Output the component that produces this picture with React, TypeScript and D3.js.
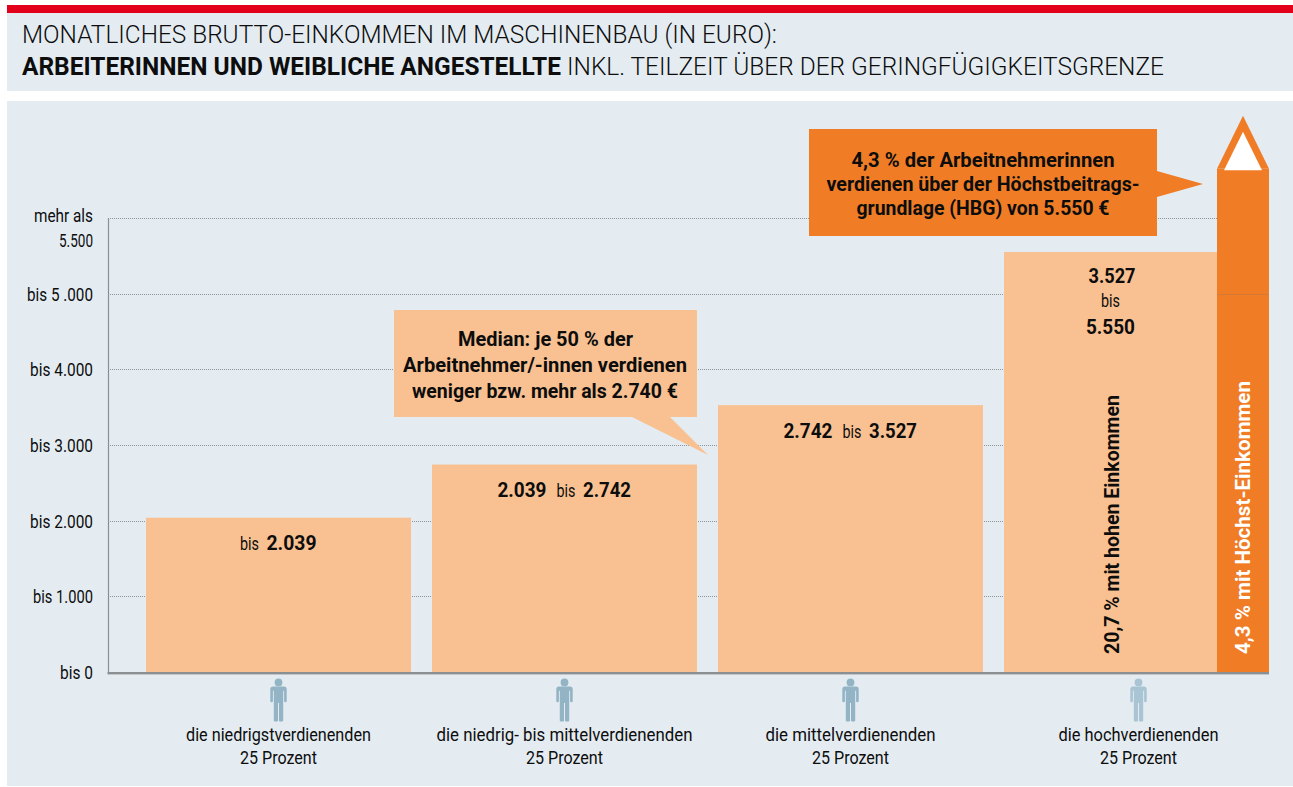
import { useEffect, useRef } from "react";
import * as d3 from "d3";

const width = 1293;
const height = 787;

const fontFamily = "Roboto, 'Noto Sans', sans-serif";

const categories = [
  "die niedrigstverdienenden",
  "die niedrig- bis mittelverdienenden",
  "die mittelverdienenden",
  "die hochverdienenden",
];
const lowerBounds = [0, 2039, 2742, 3527];
const upperBounds = [2039, 2742, 3527, 5550];
const lowerLabels = ["", "2.039", "2.742", "3.527"];
const upperLabels = ["2.039", "2.742", "3.527", "5.550"];
const categoryLabelWidths = [185, 256, 170, 160];

const tickValues = [0, 1000, 2000, 3000, 4000, 5000, 6000];
const tickLabels = ["bis 0", "bis 1.000", "bis 2.000", "bis 3.000", "bis 4.000", "bis 5 .000", "5.500"];

// oberes Ende der Höchst-Einkommen-Säule, nur Pfeilform, kein Messwert
const arrowBaseValue = 6650;

const colors = {
  red: "#e2001a",
  header: "#e4ecf2",
  panel: "#e4ecf2",
  bar: "#f9c191",
  orange: "#f07d26",
  axis: "#8c8f91",
  grid: "#8f9496",
  icon: "#93b4c5",
  iconLight: "#a9c4d3",
  text: "#0d0d0d",
};

const margin = { top: 218, bottom: 672, left: 108, right: 1269 };

type TextRow = { text: string; x: number; y: number; w: number };

const calloutTop = [
  { text: "4,3 % der Arbeitnehmerinnen", x: 983, y: 167, w: 263 },
  { text: "verdienen über der Höchstbeitrags-", x: 983, y: 191, w: 313 },
  { text: "grundlage (HBG) von 5.550 €", x: 983, y: 215, w: 253 },
];
const calloutMedian = [
  { text: "Median: je 50 % der", x: 545.5, y: 346, w: 175 },
  { text: "Arbeitnehmer/-innen verdienen", x: 545, y: 372, w: 284 },
  { text: "weniger bzw. mehr als 2.740 €", x: 545, y: 398, w: 266 },
];

export default function App() {
  const svgRef = useRef<SVGSVGElement | null>(null);

  useEffect(() => {
    if (!svgRef.current) return;
    const svg = d3.select(svgRef.current);

    const x = d3
      .scaleBand()
      .domain(categories)
      .range([146, margin.right])
      .paddingInner(21 / 286);

    const y = d3.scaleLinear().domain([0, 6000]).range([margin.bottom, margin.top]);

    const topColumnWidth = 52;
    const barWidth = (i: number) =>
      i === 3 ? x.bandwidth() - topColumnWidth : x.bandwidth();

    // Gitterlinien
    svg
      .select(".grid")
      .selectAll("line")
      .data(tickValues.slice(1))
      .join("line")
      .attr("x1", margin.left)
      .attr("x2", margin.right)
      .attr("y1", (d) => Math.round(y(d)) + 0.5)
      .attr("y2", (d) => Math.round(y(d)) + 0.5)
      .attr("stroke", colors.grid)
      .attr("stroke-width", 1)
      .attr("stroke-dasharray", "1 1");

    // y-Achse
    const yAxis = svg
      .select<SVGGElement>(".y-axis")
      .attr("transform", `translate(${margin.left},0)`)
      .call(
        d3
          .axisLeft(y)
          .tickValues(tickValues)
          .tickSize(0)
          .tickPadding(15)
          .tickFormat((_, i) => tickLabels[i]),
      );
    yAxis.select(".domain").attr("stroke", colors.axis).attr("stroke-width", 1.2);
    yAxis
      .selectAll<SVGTextElement, number>("text")
      .attr("dy", (d) => (d === 6000 ? "1.62em" : "0.38em"))
      .attr("fill", colors.text)
      .style("font-family", fontFamily)
      .style("font-size", "17.5px")
      .attr("textLength", (_, i) => [33, 60, 63, 63, 63, 66, 34][i])
      .attr("lengthAdjust", "spacingAndGlyphs");
    yAxis
      .append("text")
      .attr("x", -15)
      .attr("y", y(6000) + 4)
      .attr("text-anchor", "end")
      .attr("fill", colors.text)
      .style("font-family", fontFamily)
      .style("font-size", "17.5px")
      .attr("textLength", 59)
      .attr("lengthAdjust", "spacingAndGlyphs")
      .text("mehr als");

    // Balken
    svg
      .select(".bars")
      .selectAll("rect")
      .data(categories)
      .join("rect")
      .attr("x", (d) => x(d) ?? 0)
      .attr("width", (_, i) => barWidth(i))
      .attr("y", (_, i) => y(upperBounds[i]))
      .attr("height", (_, i) => y(lowerBounds[0]) - y(upperBounds[i]))
      .attr("fill", colors.bar);

    // Höchst-Einkommen-Säule mit Pfeil
    const colLeft = margin.right - topColumnWidth;
    const colMid = colLeft + topColumnWidth / 2;
    const colTop = y(arrowBaseValue);
    const column = svg.select(".column");
    column
      .append("rect")
      .attr("x", colLeft)
      .attr("y", colTop)
      .attr("width", topColumnWidth)
      .attr("height", y(0) - colTop)
      .attr("fill", colors.orange);
    const tri = d3.line();
    column
      .append("path")
      .attr("d", tri([[colLeft, colTop], [colMid, colTop - 53], [margin.right, colTop]]) + "Z")
      .attr("fill", colors.orange);
    column
      .append("path")
      .attr("d", tri([[colLeft + 7, colTop + 1.5], [colMid, colTop - 37], [margin.right - 7, colTop + 1.5]]) + "Z")
      .attr("fill", "#ffffff");
    column
      .append("line")
      .attr("x1", colLeft)
      .attr("x2", margin.right)
      .attr("y1", Math.round(y(5000)) + 0.5)
      .attr("y2", Math.round(y(5000)) + 0.5)
      .attr("stroke", "#d67a33")
      .attr("stroke-width", 1);

    // Grundlinie
    svg
      .select(".baseline")
      .attr("x", margin.left - 0.5)
      .attr("y", margin.bottom)
      .attr("width", margin.right - margin.left + 0.5)
      .attr("height", 2.4)
      .attr("fill", colors.axis);

    // Wertebeschriftung
    const values = svg.select(".values");
    const bold = (sel: d3.Selection<SVGTextElement, unknown, null, undefined>, w: number) =>
      sel
        .attr("text-anchor", "middle")
        .attr("fill", colors.text)
        .style("font-family", fontFamily)
        .style("font-size", "20.5px")
        .style("font-weight", 700)
        .attr("textLength", w)
        .attr("lengthAdjust", "spacingAndGlyphs");
    const thin = (sel: d3.Selection<SVGTextElement, unknown, null, undefined>) =>
      sel
        .attr("text-anchor", "middle")
        .attr("fill", colors.text)
        .style("font-family", fontFamily)
        .style("font-size", "17.5px")
        .attr("textLength", 19)
        .attr("lengthAdjust", "spacingAndGlyphs")
        .text("bis");

    categories.forEach((c, i) => {
      const center = (x(c) ?? 0) + x.bandwidth() / 2;
      const base = y(upperBounds[i]) + 32.5;
      const g = values.append("g");
      if (i === 0) {
        g.append("text").attr("x", center - 29).attr("y", base).call(thin);
        g.append("text").attr("x", center + 13).attr("y", base).call(bold, 50).text(upperLabels[i]);
      } else if (i < 3) {
        g.append("text").attr("x", center - 42.5).attr("y", base).call(bold, 49).text(lowerLabels[i]);
        g.append("text").attr("x", center + 1.5).attr("y", base).call(thin);
        g.append("text").attr("x", center + 42.5).attr("y", base).call(bold, 48).text(upperLabels[i]);
      } else {
        const mid = center - 24.5;
        g.append("text").attr("x", mid).attr("y", base - 1.5).call(bold, 47).text(lowerLabels[i]);
        g.append("text").attr("x", mid - 1.5).attr("y", base + 22).call(thin);
        g.append("text").attr("x", mid - 1.5).attr("y", base + 49).call(bold, 49).text(upperLabels[i]);
      }
    });

    // Personen und Kategorien
    const people = svg
      .select(".people")
      .selectAll("g")
      .data(categories)
      .join("g")
      .attr("transform", (d, i) => `translate(${(x(d) ?? 0) + x.bandwidth() / 2 + (i === 3 ? 2 : 0)},0)`);

    people
      .append("circle")
      .attr("cy", 682.4)
      .attr("r", 3.9)
      .attr("fill", (_, i) => (i === 3 ? colors.iconLight : colors.icon));
    people
      .append("path")
      .attr(
        "d",
        "M-5.5,686.5h11a2.7,2.7 0 0 1 2.7,2.7v11.8a1.3,1.3 0 0 1-2.6,0v-10.2h-0.9v10.7v19a1.1,1.1 0 0 1-1,1h-2.2a1,1 0 0 1-1-1v-17.5h-1v17.5a1,1 0 0 1-1,1h-2.2a1.1,1.1 0 0 1-1-1v-19v-10.7h-0.9v10.2a1.3,1.3 0 0 1-2.6,0v-11.8a2.7,2.7 0 0 1 2.7-2.7Z",
      )
      .attr("fill", (_, i) => (i === 3 ? colors.iconLight : colors.icon));
    people
      .append("text")
      .attr("y", 741)
      .attr("text-anchor", "middle")
      .attr("fill", colors.text)
      .style("font-family", fontFamily)
      .style("font-size", "17.5px")
      .attr("textLength", (_, i) => categoryLabelWidths[i])
      .attr("lengthAdjust", "spacingAndGlyphs")
      .text((d) => d);
    people
      .append("text")
      .attr("y", 764)
      .attr("text-anchor", "middle")
      .attr("fill", colors.text)
      .style("font-family", fontFamily)
      .style("font-size", "17.5px")
      .attr("textLength", 77)
      .attr("lengthAdjust", "spacingAndGlyphs")
      .text("25 Prozent");
  }, []);

  const callout = (rows: TextRow[]) =>
    rows.map((r) => (
      <text
        key={r.text}
        x={r.x}
        y={r.y}
        textAnchor="middle"
        fill={colors.text}
        fontFamily={fontFamily}
        fontSize={20}
        fontWeight={700}
        textLength={r.w}
        lengthAdjust="spacingAndGlyphs"
      >
        {r.text}
      </text>
    ));

  return (
    <div style={{ position: "absolute", left: 0, top: 0 }}>
      <svg ref={svgRef} width={width} height={height} viewBox={`0 0 ${width} ${height}`} style={{ display: "block" }}>
        <rect width={width} height={height} fill="#ffffff" />
        <rect x={7} y={5} width={width - 7} height={8} fill={colors.red} />
        <rect x={7} y={13} width={width - 7} height={78} fill={colors.header} />
        <rect x={7} y={101} width={width - 7} height={685} fill={colors.panel} />

        <g fontFamily={fontFamily} fill={colors.text}>
          <text x={22} y={43} fontSize={26.5} fontWeight={300} textLength={755} lengthAdjust="spacingAndGlyphs">
            MONATLICHES BRUTTO-EINKOMMEN IM MASCHINENBAU (IN EURO):
          </text>
          <text x={22} y={75} fontSize={26.5} fontWeight={700} textLength={539} lengthAdjust="spacingAndGlyphs">
            ARBEITERINNEN UND WEIBLICHE ANGESTELLTE
          </text>
          <text x={567} y={75} fontSize={26.5} fontWeight={300} textLength={597} lengthAdjust="spacingAndGlyphs">
            INKL. TEILZEIT ÜBER DER GERINGFÜGIGKEITSGRENZE
          </text>
        </g>

        <g className="grid" />
        <g className="y-axis" />
        <g className="bars" />
        <g className="column" />
        <rect className="baseline" />
        <g className="values" />
        <g className="people" />

        <path d="M394,310H697V417H670L708,455L632,417H394Z" fill={colors.bar} />
        {callout(calloutMedian)}
        <path d="M809,129H1157V171L1203,184L1157,197V236H809Z" fill={colors.orange} />
        {callout(calloutTop)}

        <text
          transform="translate(1119,654) rotate(-90)"
          fill={colors.text}
          fontFamily={fontFamily}
          fontSize={20.5}
          fontWeight={700}
          textLength={259}
          lengthAdjust="spacingAndGlyphs"
        >
          20,7 % mit hohen Einkommen
        </text>
        <text
          transform="translate(1250,654) rotate(-90)"
          fill="#ffffff"
          fontFamily={fontFamily}
          fontSize={20.5}
          fontWeight={700}
          textLength={273}
          lengthAdjust="spacingAndGlyphs"
        >
          4,3 % mit Höchst-Einkommen
        </text>
      </svg>
    </div>
  );
}
